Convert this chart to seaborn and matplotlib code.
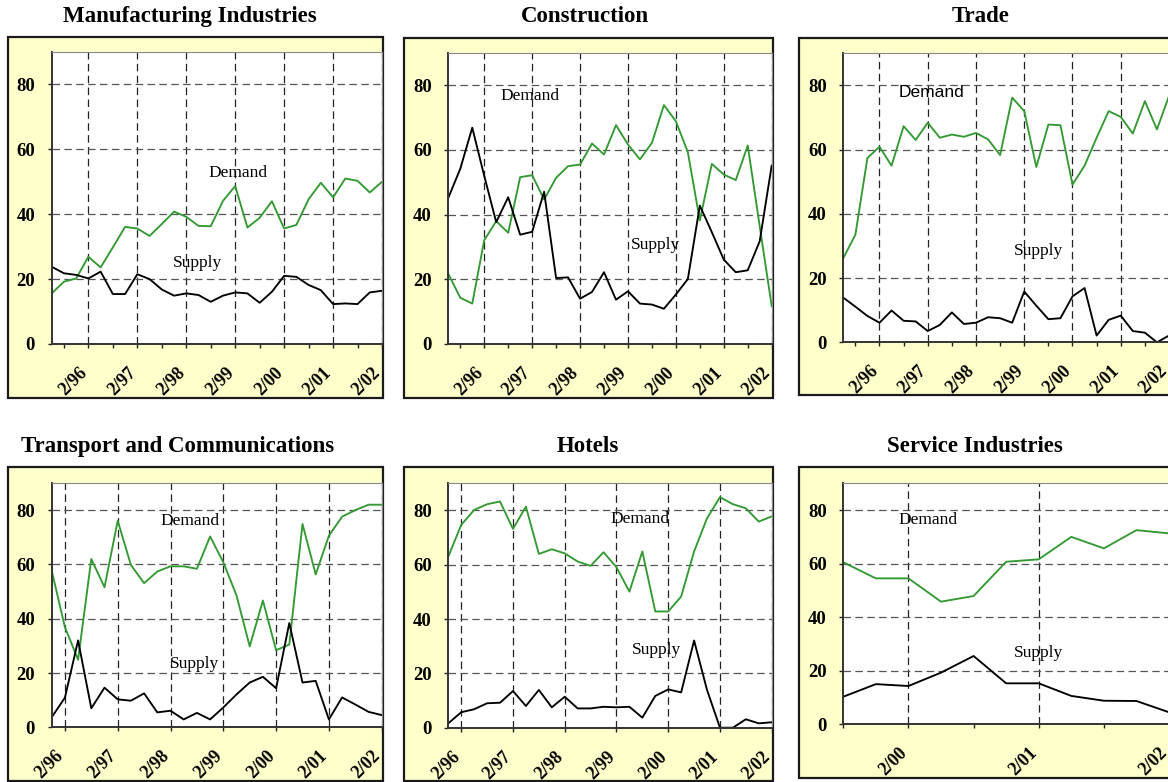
import matplotlib
matplotlib.use("Agg")
import matplotlib.pyplot as plt
import matplotlib.transforms as mtransforms
from matplotlib.patches import Rectangle
import numpy as np
import pandas as pd
import seaborn as sns

# quarterly periods, month/year
periods = ["5/95", "8/95", "11/95",
           "2/96", "5/96", "8/96", "11/96",
           "2/97", "5/97", "8/97", "11/97",
           "2/98", "5/98", "8/98", "11/98",
           "2/99", "5/99", "8/99", "11/99",
           "2/00", "5/00", "8/00", "11/00",
           "2/01", "5/01", "8/01", "11/01",
           "2/02"]

manuf_demand = [15.6, 19.2, 20.2, 26.9, 23.6, 29.8, 36.1, 35.6, 33.3, 37.0, 40.8, 39.2, 36.4, 36.3,
                44.1, 48.7, 35.9, 38.9, 44.0, 35.6, 36.7, 44.6, 49.7, 45.2, 51.0, 50.3, 46.7, 50.0]
manuf_supply = [23.8, 21.8, 21.3, 20.2, 22.3, 15.4, 15.4, 21.5, 20.0, 16.8, 14.9, 15.6, 15.1, 13.0,
                14.9, 15.9, 15.6, 12.7, 16.1, 21.0, 20.7, 18.2, 16.6, 12.3, 12.5, 12.3, 15.9, 16.4]

constr_demand = [21.7, 14.3, 12.5, 32.1, 38.0, 34.4, 51.6, 52.2, 44.7, 51.4, 55.0, 55.5, 62.0, 58.6,
                 67.7, 61.7, 57.1, 62.2, 73.9, 68.9, 59.3, 38.2, 55.7, 52.4, 50.7, 61.4, 36.4, 11.7]
constr_supply = [45.2, 54.2, 66.9, 52.0, 37.7, 45.4, 33.8, 34.7, 47.1, 20.4, 20.6, 14.0, 16.1, 22.2,
                 13.7, 16.3, 12.5, 12.2, 10.9, 15.3, 20.1, 42.8, 34.6, 26.1, 22.2, 22.8, 31.8, 55.2]

trade_demand = [26.2, 33.5, 57.4, 60.9, 55.0, 67.3, 63.0, 68.4, 63.7, 64.7, 64.0, 65.2, 63.2, 58.3,
                76.2, 72.0, 54.6, 67.8, 67.6, 49.1, 55.0, 63.7, 72.0, 70.2, 65.0, 75.1, 66.3, 76.7]
trade_supply = [13.9, 11.1, 8.2, 6.1, 9.9, 6.7, 6.5, 3.5, 5.4, 9.3, 5.7, 6.1, 7.8, 7.5,
                6.1, 15.8, 11.4, 7.2, 7.5, 14.3, 16.9, 2.1, 7.0, 8.3, 3.5, 3.0, 0.0, 2.1]

transp_demand = [57.7, 36.9, 24.9, 62.0, 51.6, 76.1, 59.8, 53.1, 57.4, 59.3, 59.3, 58.4, 70.3,
                 60.8, 48.6, 29.8, 46.7, 28.4, 30.5, 74.9, 56.3, 70.6, 77.6, 80.0, 82.0, 82.0]
transp_supply = [3.7, 10.9, 32.0, 7.0, 14.6, 10.3, 9.8, 12.5, 5.5, 6.1, 2.9, 5.3, 2.9,
                 7.3, 12.1, 16.5, 18.6, 14.4, 38.4, 16.5, 17.1, 2.9, 11.0, 8.4, 5.7, 4.5]

hotels_demand = [63.0, 74.7, 80.2, 82.3, 83.3, 73.2, 81.4, 64.0, 65.7, 64.2, 61.2, 59.6, 64.6,
                 59.1, 50.1, 64.9, 42.8, 42.8, 48.3, 64.9, 77.1, 84.9, 82.3, 80.8, 75.9, 77.8]
hotels_supply = [1.6, 5.7, 6.8, 9.0, 9.2, 13.5, 8.0, 13.9, 7.5, 11.4, 7.1, 7.1, 7.7,
                 7.5, 7.7, 3.7, 11.7, 14.1, 13.0, 32.1, 13.9, 0.0, 0.0, 3.1, 1.6, 2.0]

service_demand = [60.5, 54.5, 54.5, 45.8, 47.9, 60.7, 61.6, 70.0, 65.7, 72.5, 71.3]
service_supply = [10.3, 15.0, 14.3, 19.3, 25.5, 15.3, 15.3, 10.6, 8.8, 8.7, 4.5]

W, H = 1168, 782

# pixel layout: frame / plot area as (left, top, right, bottom)
panels = [
    dict(title="Manufacturing Industries", per=periods, d=manuf_demand, s=manuf_supply,
         frame=(8, 37, 383, 398), plot=(51.7, 52, 382, 344), tpos=(190, 22),
         dlab=(15.2, 52.7), slab=(11.9, 25.0), step=2, sans=False),
    dict(title="Construction", per=periods, d=constr_demand, s=constr_supply,
         frame=(404, 38, 773, 398), plot=(448.3, 53, 771.7, 344), tpos=(585, 22),
         dlab=(6.8, 76.6), slab=(17.3, 30.6), step=2, sans=False),
    dict(title="Trade", per=periods, d=trade_demand, s=trade_supply,
         frame=(799, 38, 1185, 395), plot=(843.3, 53.3, 1169, 342.3), tpos=(981, 22),
         dlab=(7.3, 77.8), slab=(16.2, 28.3), step=2, sans=True),
    dict(title="Transport and Communications", per=periods[2:], d=transp_demand, s=transp_supply,
         frame=(8, 467, 383, 781), plot=(51.7, 483, 381.7, 727.3), tpos=(178, 452),
         dlab=(10.5, 76.1), slab=(10.8, 23.5), step=4, sans=False),
    dict(title="Hotels", per=periods[2:], d=hotels_demand, s=hotels_supply,
         frame=(404, 467, 773, 781), plot=(448.3, 483.3, 771.7, 727.7), tpos=(588, 452),
         dlab=(14.8, 76.9), slab=(16.1, 28.6), step=4, sans=False),
    dict(title="Service Industries", per=periods[17:], d=service_demand, s=service_supply,
         frame=(799, 467, 1185, 778), plot=(843.3, 483.3, 1169, 724.3), tpos=(975, 452),
         dlab=(2.6, 76.2), slab=(5.98, 26.7), step=2, sans=False),
]

sns.set_theme(style="white")
plt.rcParams['font.family'] = ['Liberation Serif', 'DejaVu Serif']
plt.rcParams.update({'text.color': 'black', 'xtick.color': 'black', 'ytick.color': 'black',
                     'xtick.labelcolor': 'black', 'ytick.labelcolor': 'black'})

fig = plt.figure(figsize=(W / 100, H / 100), dpi=100)
fig.patch.set_facecolor('white')

def fx(px):
    return px / W

def fy(py):
    return 1 - py / H

pal = {'Demand': '#339933', 'Supply': '#000000'}
shift = mtransforms.ScaledTranslation(-4 / 100, 0, fig.dpi_scale_trans)

for p in panels:
    l, t, r, b = p['frame']
    fig.add_artist(Rectangle((fx(l), fy(b)), fx(r) - fx(l), fy(t) - fy(b),
                             transform=fig.transFigure, facecolor='#FFFFCC',
                             edgecolor='#1a1a1a', linewidth=1.6, zorder=-1))
    fig.text(fx(p['tpos'][0]), fy(p['tpos'][1]), p['title'], ha='center', va='baseline',
             fontsize=16.5, fontweight='bold', color='black')

    l, t, r, b = p['plot']
    ax = fig.add_axes([fx(l), fy(b), fx(r) - fx(l), fy(t) - fy(b)])
    ax.set_facecolor('white')

    n = len(p['per'])
    df = pd.DataFrame({'pos': np.arange(n), 'Demand': p['d'], 'Supply': p['s']})
    df = df.melt(id_vars='pos', var_name='series', value_name='value')
    sns.lineplot(data=df, x='pos', y='value', hue='series', palette=pal, linewidth=1.35,
                 legend=False, errorbar=None, ax=ax)

    ax.set_xlim(0, n - 1)
    ax.set_ylim(0, 90)
    ax.set_xlabel('')
    ax.set_ylabel('')

    major = [i for i, q in enumerate(p['per']) if q.startswith('2/')]
    first = major[0] % p['step']
    minor = [i for i in range(first, n, p['step']) if i not in major]
    ax.set_xticks(major)
    ax.set_xticks(minor, minor=True)
    ax.set_xticklabels([p['per'][i] for i in major], rotation=45, ha='right', va='center',
                       rotation_mode='anchor', fontsize=13, fontweight='bold', color='black')
    ax.set_yticks([0, 20, 40, 60, 80])
    ax.set_yticklabels(['0', '20', '40', '60', '80'], fontsize=13.5, fontweight='bold',
                       color='black')

    ax.tick_params(axis='x', which='both', bottom=True, direction='out', length=3,
                   width=1, color='#222222')
    ax.tick_params(axis='x', which='major', pad=16)
    ax.tick_params(axis='y', left=True, direction='out', length=3, width=1,
                   color='#222222', pad=9)

    ax.set_axisbelow(True)
    ax.grid(True, axis='x', which='major', color='#222222', linestyle=(0, (6, 3.5)),
            linewidth=0.9)
    ax.grid(True, axis='y', which='major', color='#555555', linestyle=(0, (6, 3.5)),
            linewidth=0.9)

    for side in ['left', 'bottom']:
        ax.spines[side].set_color('#333333')
        ax.spines[side].set_linewidth(1.4)
    for side in ['top', 'right']:
        ax.spines[side].set_color('#888888')
        ax.spines[side].set_linewidth(0.8)

    ax.text(p['dlab'][0], p['dlab'][1], 'Demand', ha='center', va='center', fontsize=12.5,
            color='black',
            family=['Liberation Sans', 'DejaVu Sans'] if p['sans'] else None)
    ax.text(p['slab'][0], p['slab'][1], 'Supply', ha='center', va='center', fontsize=12.5,
            color='black')

    for lab in ax.get_xticklabels():
        lab.set_transform(lab.get_transform() + shift)

fig.savefig('out.png', dpi=100)
